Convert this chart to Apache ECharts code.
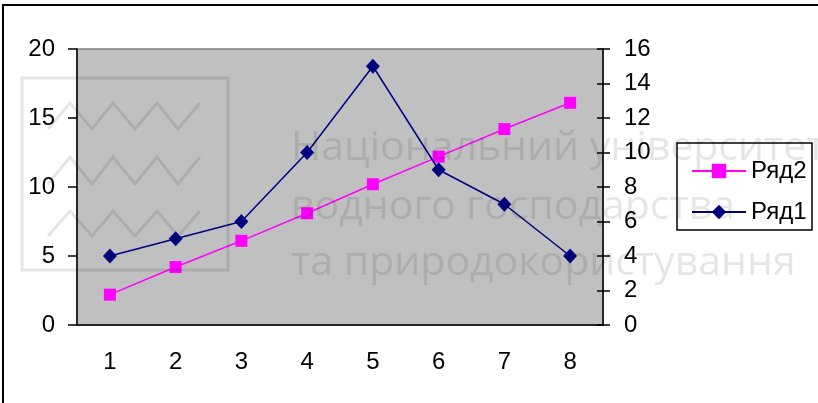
<!DOCTYPE html>
<html>
<head>
<meta charset="utf-8">
<script src="https://cdn.jsdelivr.net/npm/echarts@6/dist/echarts.min.js"></script>
<style>html,body{margin:0;padding:0;background:#fff}#c{width:818px;height:403px}</style>
</head>
<body>
<div id="c"></div>
<script>
const categories = ['1', '2', '3', '4', '5', '6', '7', '8'];
const series2Name = 'Ряд2';
const series1Name = 'Ряд1';
const series2Values = [2.2, 4.2, 6.1, 8.1, 10.2, 12.2, 14.2, 16.1];
const series1Values = [4, 5, 6, 10, 15, 9, 7, 4];
const leftTicks = { min: 0, max: 20, interval: 5 };
const rightTicks = { min: 0, max: 16, interval: 2 };
const watermarkLines = ['Національний університет', 'водного господарства', 'та природокористування'];

const FONT = 'Liberation Sans, Arial, sans-serif';
const WM = 'rgba(0,0,0,0.1)';

function zig(yTop, yBot) {
  const xs = [48, 70, 92, 113, 135, 157, 178, 200];
  return xs.map((x, i) => [x, i % 2 === 0 ? yBot : yTop]);
}

const chart = echarts.init(document.getElementById('c'));
chart.setOption({
  animation: false,
  backgroundColor: '#fff',
  textStyle: { fontFamily: FONT },
  grid: {
    left: 77, right: 215, top: 49, bottom: 78,
    show: true, backgroundColor: '#c0c0c0', borderColor: '#808080', borderWidth: 1.5
  },
  legend: {
    orient: 'vertical', left: 686, top: 154,
    itemWidth: 54, itemHeight: 18, itemGap: 17,
    textStyle: { fontSize: 24, color: '#000', fontFamily: FONT },
    data: [series2Name, series1Name]
  },
  xAxis: {
    type: 'category', data: categories, boundaryGap: true,
    axisLine: { lineStyle: { color: '#000', width: 1.5 } },
    axisTick: { length: 8, lineStyle: { color: '#000', width: 1.5 } },
    axisLabel: { fontSize: 24, color: '#000', margin: 25, fontFamily: FONT },
    splitLine: { show: false }
  },
  yAxis: [
    {
      type: 'value', position: 'left', min: leftTicks.min, max: leftTicks.max, interval: leftTicks.interval,
      axisLine: { show: true, lineStyle: { color: '#000', width: 1.5 } },
      axisTick: { show: true, length: 9, lineStyle: { color: '#000', width: 1.5 } },
      axisLabel: { fontSize: 24, color: '#000', margin: 22, fontFamily: FONT },
      splitLine: { show: false }
    },
    {
      type: 'value', position: 'right', min: rightTicks.min, max: rightTicks.max, interval: rightTicks.interval,
      axisLine: { show: true, lineStyle: { color: '#000', width: 1.5 } },
      axisTick: { show: true, length: 7, lineStyle: { color: '#000', width: 1.5 } },
      axisLabel: { fontSize: 24, color: '#000', margin: 21, fontFamily: FONT },
      splitLine: { show: false }
    },
    {
      type: 'value', position: 'right', min: rightTicks.min, max: rightTicks.max, interval: rightTicks.interval,
      axisLine: { show: false },
      axisTick: { show: true, inside: true, length: 6, lineStyle: { color: '#000', width: 1.5 } },
      axisLabel: { show: false },
      splitLine: { show: false }
    }
  ],
  series: [
    {
      name: series2Name, type: 'line', yAxisIndex: 0, data: series2Values,
      symbol: 'rect', symbolSize: 12, z: 3,
      lineStyle: { color: '#ff00ff', width: 1.5 },
      itemStyle: { color: '#ff00ff' }
    },
    {
      name: series1Name, type: 'line', yAxisIndex: 1, data: series1Values,
      symbol: 'diamond', symbolSize: [14, 15], z: 4,
      lineStyle: { color: '#000080', width: 1.5 },
      itemStyle: { color: '#000080' }
    }
  ],
  graphic: [
    { type: 'rect', silent: true, z: 100, shape: { x: 3, y: 5, width: 900, height: 500 },
      style: { fill: 'none', stroke: '#000', lineWidth: 2 } },
    { type: 'rect', silent: true, z: 100, shape: { x: 677, y: 143, width: 135, height: 87 },
      style: { fill: 'none', stroke: '#000', lineWidth: 1.5 } },
    { type: 'rect', silent: true, z: 100, shape: { x: 22, y: 78, width: 206, height: 192 },
      style: { fill: 'none', stroke: WM, lineWidth: 3 } },
    { type: 'polyline', silent: true, z: 100, shape: { points: zig(103, 129) },
      style: { fill: 'none', stroke: WM, lineWidth: 3 } },
    { type: 'polyline', silent: true, z: 100, shape: { points: zig(157, 184) },
      style: { fill: 'none', stroke: WM, lineWidth: 3 } },
    { type: 'polyline', silent: true, z: 100, shape: { points: zig(211, 236) },
      style: { fill: 'none', stroke: WM, lineWidth: 3 } },
    { type: 'text', silent: true, z: 100, x: 291, y: 128,
      style: { text: watermarkLines[0], fill: WM, font: '41px "Open Sans"', textVerticalAlign: 'alphabetic' } },
    { type: 'text', silent: true, z: 100, x: 291, y: 187,
      style: { text: watermarkLines[1], fill: WM, font: '41px "Open Sans"', textVerticalAlign: 'alphabetic' } },
    { type: 'text', silent: true, z: 100, x: 291, y: 243,
      style: { text: watermarkLines[2], fill: WM, font: '41px "Open Sans"', textVerticalAlign: 'alphabetic' } }
  ]
});
</script>
</body>
</html>
